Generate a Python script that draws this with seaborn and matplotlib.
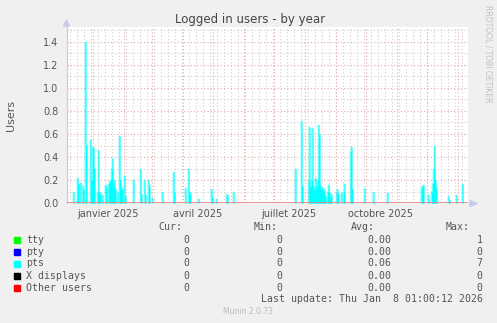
import matplotlib
matplotlib.use("Agg")
import matplotlib.pyplot as plt
import seaborn as sns
import pandas as pd
import numpy as np
from matplotlib.patches import Rectangle, Polygon

# ---------------- data ----------------
title = "Logged in users - by year"
ylabel = "Users"
x_start = "2024-12-06"
x_end = "2026-01-11"

pts_dates = [
    "2024-12-12", "2024-12-16", "2024-12-17", "2024-12-19", "2024-12-21", "2024-12-22",
    "2024-12-24", "2024-12-25", "2024-12-29", "2024-12-30", "2024-12-31", "2025-01-01",
    "2025-01-02", "2025-01-05", "2025-01-06", "2025-01-07", "2025-01-08", "2025-01-10",
    "2025-01-13", "2025-01-14", "2025-01-16", "2025-01-17", "2025-01-18", "2025-01-19",
    "2025-01-20", "2025-01-21", "2025-01-22", "2025-01-23", "2025-01-25", "2025-01-27",
    "2025-01-28", "2025-01-29", "2025-01-30", "2025-02-01", "2025-02-02", "2025-02-10",
    "2025-02-17", "2025-02-18", "2025-02-21", "2025-02-22", "2025-02-25", "2025-02-26",
    "2025-03-01", "2025-03-11", "2025-03-22", "2025-03-23", "2025-04-03", "2025-04-06",
    "2025-04-07", "2025-04-08", "2025-04-16", "2025-04-29", "2025-04-30", "2025-05-04",
    "2025-05-14", "2025-05-15", "2025-05-21",
    "2025-07-22", "2025-07-28", "2025-07-29", "2025-08-04", "2025-08-05", "2025-08-06",
    "2025-08-07", "2025-08-08", "2025-08-09", "2025-08-10", "2025-08-11", "2025-08-12",
    "2025-08-13", "2025-08-14", "2025-08-15", "2025-08-16", "2025-08-17", "2025-08-18",
    "2025-08-19", "2025-08-20", "2025-08-21", "2025-08-23", "2025-08-24", "2025-08-25",
    "2025-08-26", "2025-08-27", "2025-09-01", "2025-09-02", "2025-09-03", "2025-09-06",
    "2025-09-08", "2025-09-09", "2025-09-15", "2025-09-16", "2025-09-17", "2025-09-29",
    "2025-10-08", "2025-10-09", "2025-10-22", "2025-11-25", "2025-11-26", "2025-11-27",
    "2025-12-02", "2025-12-05", "2025-12-06", "2025-12-07", "2025-12-08", "2025-12-09",
    "2025-12-10", "2025-12-22", "2025-12-23", "2025-12-30", "2026-01-05",
]
pts_values = [
    0.10, 0.22, 0.17, 0.18, 0.15, 0.12,
    1.40, 0.50, 0.55, 0.20, 0.49, 0.48,
    0.30, 0.10, 0.46, 0.10, 0.08, 0.07,
    0.16, 0.14, 0.17, 0.19, 0.20, 0.30,
    0.39, 0.15, 0.20, 0.12, 0.10, 0.58,
    0.20, 0.12, 0.13, 0.24, 0.06, 0.20,
    0.30, 0.08, 0.20, 0.08, 0.20, 0.15,
    0.05, 0.10, 0.27, 0.10, 0.13, 0.30,
    0.10, 0.08, 0.04, 0.12, 0.05, 0.04,
    0.08, 0.07, 0.10,
    0.30, 0.71, 0.15, 0.20, 0.66, 0.15,
    0.20, 0.65, 0.15, 0.12, 0.22, 0.15,
    0.20, 0.68, 0.60, 0.15, 0.12, 0.14,
    0.10, 0.12, 0.06, 0.10, 0.16, 0.09,
    0.05, 0.08, 0.10, 0.12, 0.08, 0.09,
    0.10, 0.17, 0.45, 0.49, 0.12, 0.13,
    0.10, 0.01, 0.09, 0.14, 0.15, 0.16,
    0.07, 0.10, 0.17, 0.30, 0.50, 0.20,
    0.13, 0.06, 0.03, 0.07, 0.17,
]

yticks = [0.0, 0.2, 0.4, 0.6, 0.8, 1.0, 1.2, 1.4]
ytick_labels = ["0.0", "0.2", "0.4", "0.6", "0.8", "1.0", "1.2", "1.4"]
xlabel_dates = ["2025-01-16", "2025-04-16", "2025-07-16", "2025-10-16"]
xlabel_texts = ["janvier 2025", "avril 2025", "juillet 2025", "octobre 2025"]

series_names = ["tty", "pty", "pts", "X displays", "Other users"]
series_colors = ["#00FF00", "#0000FF", "#00FFFF", "#000000", "#FF0000"]
cur_vals = ["0", "0", "0", "0", "0"]
min_vals = ["0", "0", "0", "0", "0"]
avg_vals = ["0.00", "0.00", "0.06", "0.00", "0.00"]
max_vals = ["1", "0", "7", "0", "0"]
last_update = "Last update: Thu Jan  8 01:00:12 2026"
footer = "Munin 2.0.73"
side_text = "RRDTOOL / TOBI OETIKER"

# ---------------- build daily series ----------------
days = pd.date_range(x_start, x_end, freq="D")
vals = pd.Series(0.0, index=days)
vals.loc[pd.to_datetime(pts_dates)] = pts_values
df = pd.DataFrame({"date": days, "pts": vals.values, "zero": 0.0})

# ---------------- figure ----------------
sns.set_style("white")
W, H = 497, 323
fig = plt.figure(figsize=(W / 100, H / 100), dpi=100, facecolor="#F0F0F0")

def fx(x):
    return x / W

def fy(y):
    return 1 - y / H

L, R, T, B = 67, 468, 27, 203.3
ax = fig.add_axes([fx(L), fy(B), (R - L) / W, (B - T) / H])
ax.set_facecolor("white")

ymax = (B - T) / ((B - 180.2) / 0.2)
ax.set_xlim(pd.Timestamp(x_start), pd.Timestamp(x_end))
ax.set_ylim(0, ymax)

# grid
major_c = "#E8A8A8"
minor_c = "#D0D0D0"
for yv in np.arange(0.1, ymax, 0.2):
    ax.axhline(yv, color=minor_c, lw=0.8, ls=(0, (1, 2)), zorder=0)
for yv in np.arange(0.2, ymax, 0.2):
    ax.axhline(yv, color=major_c, lw=0.8, ls=(0, (1, 2)), zorder=0)
for d in pd.date_range(x_start, x_end, freq="W-MON"):
    ax.axvline(d, color=minor_c, lw=0.8, ls=(0, (1, 2)), zorder=0)
for d in pd.date_range(x_start, x_end, freq="MS"):
    ax.axvline(d, color=major_c, lw=0.8, ls=(0, (1, 2)), zorder=0)

# data
ax.fill_between(df["date"], 0, df["pts"], step="post", color="#00FFFF", lw=0, zorder=2)
sns.lineplot(data=df, x="date", y="pts", drawstyle="steps-post", color="#00FFFF",
             lw=0.3, ax=ax, zorder=2)
sns.lineplot(data=df, x="date", y="zero", color="#F08080", lw=1.2, ax=ax, zorder=3)

for s in ax.spines.values():
    s.set_visible(False)
ax.spines["left"].set_visible(True)
ax.spines["left"].set_color("#C8C8F0")
ax.spines["left"].set_linewidth(0.9)

ax.set_yticks(yticks)
ax.set_yticklabels(ytick_labels)
ax.tick_params(axis="y", length=2, width=0.8, color="#E08080", labelsize=7,
               labelcolor="#555555", pad=4)
ax.set_xticks(pd.to_datetime(xlabel_dates))
ax.set_xticklabels(xlabel_texts)
ax.tick_params(axis="x", length=0, labelsize=7, labelcolor="#555555", pad=4)
ax.set_xlabel("")
ax.set_ylabel(ylabel, fontsize=8, color="#555555")
ax.yaxis.set_label_coords((16 - L) / (R - L), 0.5)
ax.grid(False)

# axis arrows
fig.patches.append(Polygon([[fx(63.5), fy(26)], [fx(69.5), fy(26)], [fx(66.5), fy(20)]],
                           closed=True, color="#C8C8F0", transform=fig.transFigure))
fig.patches.append(Polygon([[fx(470), fy(200.5)], [fx(470), fy(206.5)], [fx(477), fy(203.5)]],
                           closed=True, color="#C8C8F0", transform=fig.transFigure))

# title, side text, footer
fig.text(fx(250), fy(20), title, ha="center", va="center", fontsize=8.5, color="#444444")
fig.text(fx(488), fy(5), side_text, ha="center", va="top", rotation=270, fontsize=5.5,
         color="#C0C0C0")
fig.text(fx(248), fy(312), footer, ha="center", va="center", fontsize=5.5, color="#BBBBBB")

# legend table
mono = dict(family="DejaVu Sans Mono", fontsize=7.1, color="#555555", va="center")
hy = 227.5
fig.text(fx(182), fy(hy), "Cur:", ha="right", **mono)
fig.text(fx(278), fy(hy), "Min:", ha="right", **mono)
fig.text(fx(375), fy(hy), "Avg:", ha="right", **mono)
fig.text(fx(470), fy(hy), "Max:", ha="right", **mono)
row_y = [240, 252, 263.5, 275.7, 287.7]
for i, name in enumerate(series_names):
    y = row_y[i]
    fig.patches.append(Rectangle((fx(14), fy(y + 3)), 6 / W, 6 / H, color=series_colors[i],
                                 transform=fig.transFigure))
    fig.text(fx(26), fy(y), name, ha="left", **mono)
    fig.text(fx(189.5), fy(y), cur_vals[i], ha="right", **mono)
    fig.text(fx(282), fy(y), min_vals[i], ha="right", **mono)
    fig.text(fx(391), fy(y), avg_vals[i], ha="right", **mono)
    fig.text(fx(482.5), fy(y), max_vals[i], ha="right", **mono)
fig.text(fx(483), fy(299.5), last_update, ha="right", **mono)

fig.savefig("out.png", dpi=100, facecolor=fig.get_facecolor())
